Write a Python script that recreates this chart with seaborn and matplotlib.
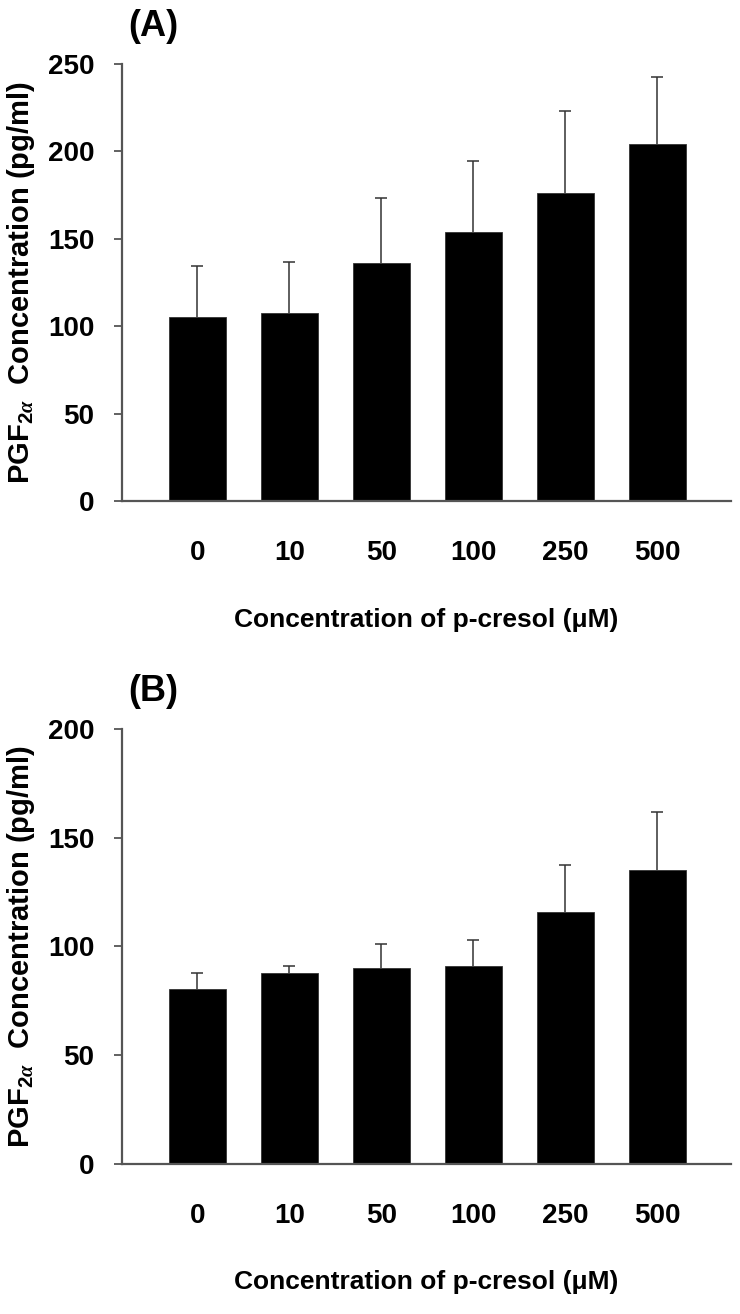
import matplotlib
matplotlib.use("Agg")
import matplotlib.pyplot as plt
import seaborn as sns
import numpy as np
import pandas as pd

# ---- data ----
doses = ["0", "10", "50", "100", "250", "500"]
mean_a = [105.5, 107.5, 136, 154, 176, 204]
err_a = [29, 29, 37.5, 40.5, 47, 38.5]
mean_b = [80.3, 88, 90, 91, 116, 135]
err_b = [7.5, 3, 11, 11.8, 21.5, 27]
yticks_a = [0, 50, 100, 150, 200, 250]
yticks_b = [0, 50, 100, 150, 200]

sns.set_theme(style="white")
plt.rcParams["font.family"] = ["Liberation Sans", "DejaVu Sans"]
plt.rcParams["font.weight"] = "bold"
plt.rcParams["text.color"] = "black"
plt.rcParams["axes.labelcolor"] = "black"
plt.rcParams["xtick.color"] = "black"
plt.rcParams["ytick.color"] = "black"
plt.rcParams["mathtext.fontset"] = "custom"
plt.rcParams["mathtext.rm"] = "Liberation Sans:bold"
plt.rcParams["mathtext.it"] = "Liberation Serif:italic"
plt.rcParams["mathtext.bf"] = "Liberation Sans:bold"

fig = plt.figure(figsize=(7.4, 13.14), dpi=100)
ax_a = fig.add_axes([0.1649, 0.6187, 0.8230, 0.3326])
ax_b = fig.add_axes([0.1649, 0.1142, 0.8230, 0.3311])

spine_col = "#555555"
ylab = r"PGF$_{\mathregular{2}\alpha}$  Concentration (pg/ml)"

def draw(ax, means, errs, yticks, ymax, tag):
    df = pd.DataFrame({"dose": doses, "value": means})
    sns.barplot(data=df, x="dose", y="value", order=doses, color="black",
                saturation=1, width=0.61, edgecolor="#333333", linewidth=0.6,
                ax=ax, zorder=2)
    xs = np.arange(len(doses))
    eb = ax.errorbar(xs, means, yerr=[np.zeros(len(means)), errs], fmt="none",
                     ecolor="#333333", elinewidth=1.1, capsize=4.5,
                     capthick=1.1, zorder=1)
    caps = eb[1]
    if len(caps) == 2:
        caps[0].set_visible(False)
    ax.set_xlim(-0.82, 5.8)
    ax.set_ylim(0, ymax)
    ax.set_yticks(yticks)
    ax.set_yticklabels([str(t) for t in yticks], fontsize=20, fontweight="bold")
    ax.set_xticks(xs)
    ax.set_xticklabels(doses, fontsize=20, fontweight="bold")
    ax.tick_params(axis="y", direction="out", length=6, width=1.3,
                   color=spine_col, labelcolor="black", pad=14, left=True)
    ax.tick_params(axis="x", length=0, pad=28, labelcolor="black")
    for s in ["top", "right"]:
        ax.spines[s].set_visible(False)
    for s in ["left", "bottom"]:
        ax.spines[s].set_color(spine_col)
        ax.spines[s].set_linewidth(1.6)
    ax.set_xlabel("Concentration of p-cresol (μM)", fontsize=19,
                  fontweight="bold", color="black", labelpad=30)
    ax.set_ylabel(ylab, fontsize=21, fontweight="bold", color="black")
    ax.yaxis.set_label_coords(-0.14, 0.5)
    ax.text(0.01, 1.045, tag, transform=ax.transAxes, fontsize=26,
            fontweight="bold", ha="left", va="bottom", color="black")

draw(ax_a, mean_a, err_a, yticks_a, 250, "(A)")
draw(ax_b, mean_b, err_b, yticks_b, 200, "(B)")

fig.savefig("out.png", dpi=100, facecolor="white")
